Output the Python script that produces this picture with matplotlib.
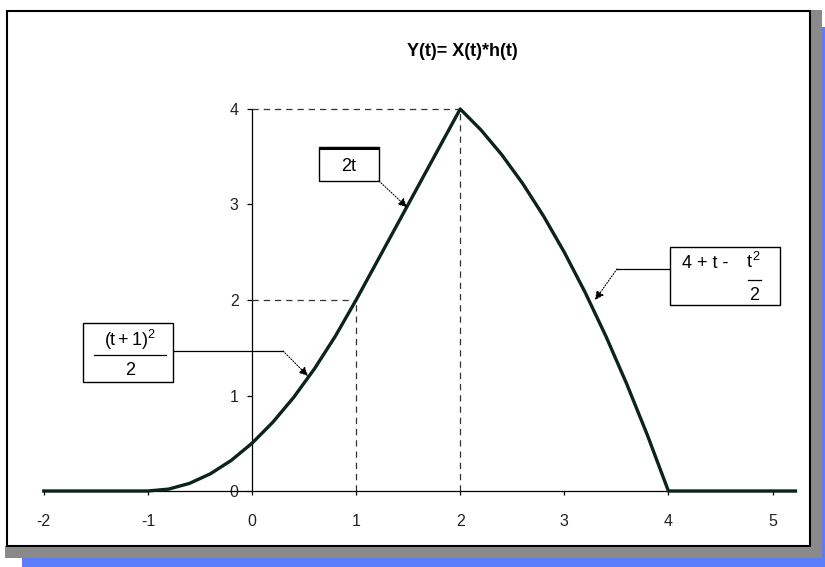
import matplotlib
matplotlib.use("Agg")
import matplotlib.pyplot as plt
from matplotlib.patches import Rectangle

plt.rcParams['font.family'] = ['Liberation Sans', 'DejaVu Sans']
plt.rcParams['mathtext.fontset'] = 'custom'
plt.rcParams['mathtext.rm'] = 'Liberation Sans'
plt.rcParams['mathtext.it'] = 'Liberation Sans'
plt.rcParams['mathtext.bf'] = 'Liberation Sans:bold'

# values: Y(t) = X(t)*h(t)
t = [-2, -1, -0.8, -0.6, -0.4, -0.2, 0, 0.2, 0.4, 0.6, 0.8, 1.0, 1.2, 1.4,
     1.6, 1.8, 2.0, 2.2, 2.4, 2.6, 2.8, 3.0, 3.2, 3.4, 3.6, 3.8, 4.0, 5.22]
y = [0, 0, 0.02, 0.08, 0.18, 0.32, 0.5, 0.72, 0.98, 1.28, 1.62, 2.0, 2.4, 2.8,
     3.2, 3.6, 4.0, 3.78, 3.52, 3.22, 2.88, 2.5, 2.08, 1.62, 1.12, 0.58, 0.0, 0.0]

x_ticks = [-2, -1, 0, 1, 2, 3, 4, 5]
y_ticks = [0, 1, 2, 3, 4]
title = "Y(t)= X(t)*h(t)"

# guide points (dashed)
peak = (2, 4)
knee = (1, 2)

W, H = 825, 567
fig = plt.figure(figsize=(W / 100, H / 100), dpi=100)
ax = fig.add_axes([0, 0, 1, 1])
ax.patch.set_visible(False)

# pixel mapping of the original: x=0 at 252px, 104.1 px/unit; y=0 at 491px, 95.5 px/unit
ax.set_xlim(-252 / 104.1, (W - 252) / 104.1)
ax.set_ylim((491 - H) / 95.5, 491 / 95.5)


def px(x, yy):
    return (x / W, 1 - yy / H)


# frame, shadow and blue band
def band(x0, y0, x1, y1, color, z):
    a = px(x0, y1)
    ax.add_patch(Rectangle(a, (x1 - x0) / W, (y1 - y0) / H, transform=ax.transAxes,
                           facecolor=color, edgecolor='none', zorder=z, clip_on=False))


band(22, 558, 825, 567, '#5b7dfb', 0)
band(822, 27, 825, 567, '#5b7dfb', 0)
band(810, 10, 822, 558, '#8a8a8a', 0)
band(5, 546, 822, 558, '#8a8a8a', 0)
a = px(7, 546)
ax.add_patch(Rectangle(a, (810 - 7) / W, (546 - 11) / H, transform=ax.transAxes,
                       facecolor='white', edgecolor='black', lw=1.5, zorder=0.5))

# axes through the origin
for s in ['top', 'right']:
    ax.spines[s].set_visible(False)
ax.spines['left'].set_position(('data', 0))
ax.spines['bottom'].set_position(('data', 0))
ax.spines['left'].set_bounds(0, 4)
ax.spines['bottom'].set_bounds(-2, 5.23)
ax.spines['left'].set_linewidth(0.9)
ax.spines['bottom'].set_linewidth(0.9)
ax.set_xticks(x_ticks)
ax.set_yticks(y_ticks)
ax.set_xticklabels([str(v) for v in x_ticks])
ax.set_yticklabels([str(v) for v in y_ticks])
ax.tick_params(axis='x', direction='out', length=3.2, width=0.9, pad=13, labelsize=11.5,
               labelcolor='#222222')
ax.tick_params(axis='y', direction='out', length=3.6, width=0.9, pad=6, labelsize=11.5,
               labelcolor='#222222')

# dashed guides
ax.plot([0, peak[0]], [peak[1], peak[1]], ls=(0, (5, 4)), color='#333333', lw=0.9, zorder=2)
ax.plot([peak[0], peak[0]], [0, peak[1]], ls=(0, (5, 4)), color='#333333', lw=0.9, zorder=2)
ax.plot([0, knee[0]], [knee[1], knee[1]], ls=(0, (5, 4)), color='#333333', lw=0.9, zorder=2)
ax.plot([knee[0], knee[0]], [0, knee[1]], ls=(0, (5, 4)), color='#333333', lw=0.9, zorder=2)

# the curve
ax.plot(t, y, color='#0b231c', lw=2.4, zorder=4, solid_joinstyle='round')

ax.text(2.02, 4.6, title, ha='center', va='center', fontsize=13, fontweight='bold')

arrow = dict(arrowstyle='-|>', linestyle=(0, (1, 1.5)), lw=0.8, color='black',
             mutation_scale=13, shrinkA=0, shrinkB=0)
box_kw = dict(facecolor='white', edgecolor='black', lw=1.0, zorder=5)

# box "2t"
ax.add_patch(Rectangle((0.644, 3.246), 1.22 - 0.644, 3.60 - 3.246, **box_kw))
ax.plot([0.644, 1.22], [3.59, 3.59], color='black', lw=2.2, zorder=6, solid_capstyle='butt')
ax.text(0.932, 3.40, "2t", ha='center', va='center', fontsize=13, zorder=6)
ax.annotate('', xy=(1.49, 2.97), xytext=(1.22, 3.246), arrowprops=arrow, zorder=6)

# box (t+1)^2 / 2
ax.add_patch(Rectangle((-1.623, 1.141), 1.623 - 0.759, 1.759 - 1.141, **box_kw))
ax.text(-1.17, 1.585, r"$(t+1)^2$", ha='center', va='center', fontsize=13, zorder=6)
ax.plot([-1.518, -0.826], [1.424, 1.424], color='black', lw=0.9, zorder=6)
ax.text(-1.17, 1.265, "2", ha='center', va='center', fontsize=13, zorder=6)
ax.plot([-0.759, 0.298], [1.466, 1.466], color='black', lw=0.9, zorder=3)
ax.annotate('', xy=(0.538, 1.204), xytext=(0.298, 1.466), arrowprops=arrow, zorder=6)

# box 4 + t - t^2/2
ax.add_patch(Rectangle((4.015, 1.948), 5.072 - 4.015, 2.555 - 1.948, **box_kw))
ax.text(4.13, 2.33, "4 + t -", ha='left', va='baseline', fontsize=13, zorder=6)
ax.text(4.75, 2.33, r"$t^2$", ha='left', va='baseline', fontsize=13, zorder=6)
ax.plot([4.764, 4.889], [2.209, 2.209], color='black', lw=0.9, zorder=6)
ax.text(4.82, 2.05, "2", ha='center', va='center', fontsize=13, zorder=6)
ax.plot([4.015, 3.506], [2.325, 2.325], color='black', lw=0.9, zorder=3)
ax.annotate('', xy=(3.295, 2.0), xytext=(3.506, 2.325), arrowprops=arrow, zorder=6)

fig.savefig("out.png", dpi=100)
